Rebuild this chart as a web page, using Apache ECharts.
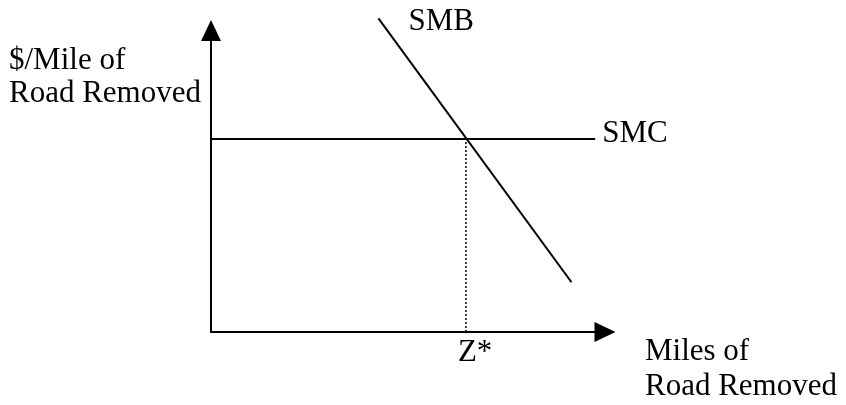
<!DOCTYPE html>
<html>
<head>
<meta charset="utf-8">
<script src="https://cdn.jsdelivr.net/npm/echarts@6/dist/echarts.min.js"></script>
<style>
html,body{margin:0;padding:0;background:#fff;}
#chart{width:846px;height:405px;}
</style>
</head>
<body>
<div id="chart"></div>
<script>
// chart data (axis units 0..100)
var smbX = [42.5, 91.5];
var smbY = [104, 16.5];
var smcX = [0, 97.5];
var smcY = [64, 64];
var zStarX = 64.7;
var zStarY = [0, 64];
var curveNames = ['SMB', 'SMC', 'Z*'];
var yTitle = '$/Mile of\nRoad Removed';
var xTitle = 'Miles of\nRoad Removed';

var serif = '"Times New Roman", "Liberation Serif", serif';

function pairs(xs, ys){
	var out = [];
	for(var i=0;i<xs.length;i++){
		out.push([xs[i], ys[i]]);
	}
	return out;
}

var myChart = echarts.init(document.getElementById('chart'), null, {renderer:'canvas'});

var lineBase = {
	type: 'line',
	showSymbol: false,
	symbol: 'none',
	clip: false,
	silent: true,
	animation: false
};

var option = {
	backgroundColor: '#fff',
	animation: false,
	grid: {left: 211, top: 30.5, right: 241, bottom: 73},
	xAxis: {
		type: 'value', min: 0, max: 100,
		axisLine: {show: true, lineStyle: {color: '#000', width: 2}, symbol: ['none', 'triangle'], symbolSize: [20, 21]},
		axisTick: {show: false}, axisLabel: {show: false}, splitLine: {show: false}
	},
	yAxis: {
		type: 'value', min: 0, max: 100,
		axisLine: {show: true, lineStyle: {color: '#000', width: 2}, symbol: ['none', 'triangle'], symbolSize: [20, 21]},
		axisTick: {show: false}, axisLabel: {show: false}, splitLine: {show: false}
	},
	series: [
		Object.assign({}, lineBase, {
			name: 'SMB',
			data: pairs(smbX, smbY),
			lineStyle: {color: '#000', width: 2}
		}),
		Object.assign({}, lineBase, {
			name: 'SMC',
			data: pairs(smcX, smcY),
			lineStyle: {color: '#000', width: 2}
		}),
		Object.assign({}, lineBase, {
			name: 'Zstar',
			data: pairs([zStarX, zStarX], zStarY),
			lineStyle: {color: '#000', width: 1.5, type: [2, 2]}
		}),
		{
			// curve labels
			type: 'scatter',
			symbolSize: 0,
			silent: true,
			clip: false,
			itemStyle: {opacity: 1},
			data: [
				{value: [smbX[0], smbY[0]], label: {formatter: curveNames[0], position: 'right', distance: 0, offset: [30, 3]}},
				{value: [smcX[1], smcY[1]], label: {formatter: curveNames[1], position: 'right', distance: 7, offset: [0, -5]}},
				{value: [zStarX, 0], label: {formatter: curveNames[2], position: 'right', distance: 0, offset: [-8, 21]}}
			],
			label: {show: true, color: '#000', opacity: 1, fontFamily: serif, fontSize: 31}
		}
	],
	graphic: [
		{type: 'text', left: 9, top: 44, style: {text: yTitle, fontFamily: serif, fontSize: 31, lineHeight: 33, fill: '#000'}},
		{type: 'text', left: 645, top: 334, style: {text: xTitle, fontFamily: serif, fontSize: 31, lineHeight: 35, fill: '#000'}}
	]
};

myChart.setOption(option);
</script>
</body>
</html>
